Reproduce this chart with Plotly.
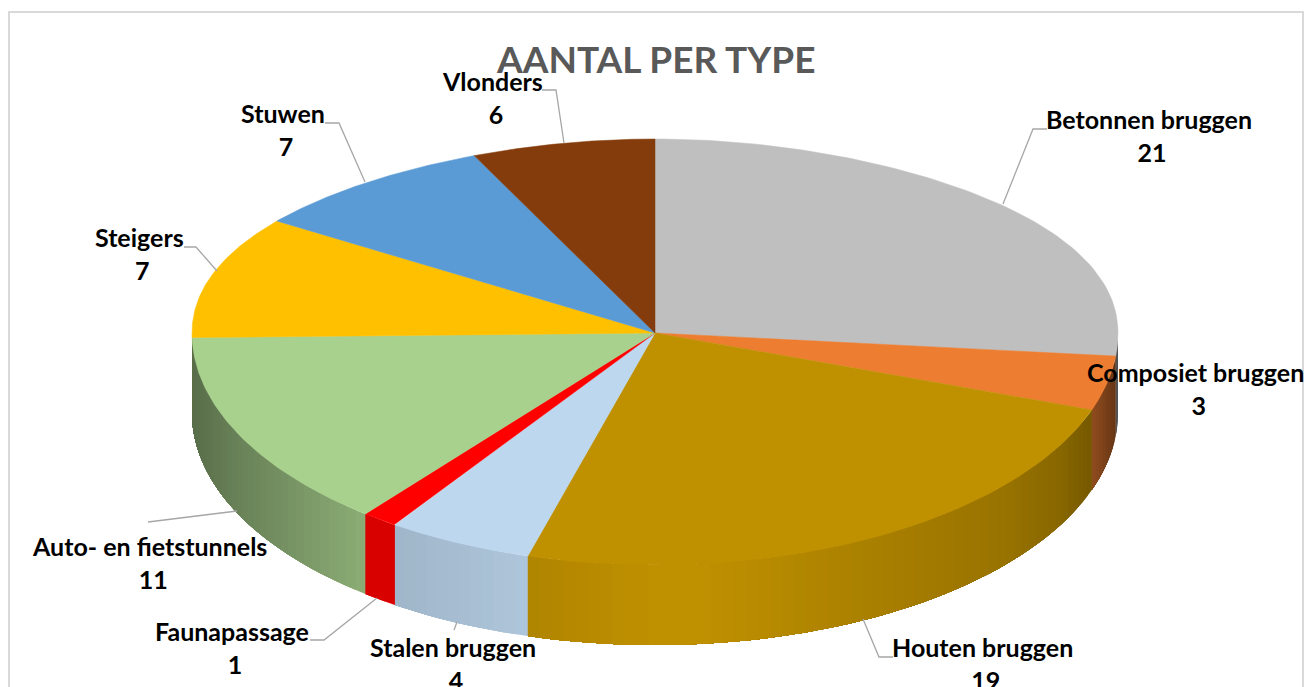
import numpy as np
import plotly.graph_objects as go

categories = ["Betonnen bruggen", "Composiet bruggen", "Houten bruggen", "Stalen bruggen",
              "Faunapassage", "Auto- en fietstunnels", "Steigers", "Stuwen", "Vlonders"]
values = [21, 3, 19, 4, 1, 11, 7, 7, 6]
colors = ["#BFBFBF", "#ED7D31", "#BF9000", "#BDD7EE", "#FF0000", "#A9D18E", "#FFC000", "#5B9BD5", "#843C0C"]
title_text = "AANTAL PER TYPE"

# layout (pixels)
CX, CY, RX, RY_FRONT, DEPTH = 655, 333, 463, 232, 80
label_pos = [(1149, 135.5), (1195, 388.5), (982, 663.5), (453, 663.5), (232, 647.5),
             (149, 562.5), (139, 253.5), (283, 129.5), (492, 97.5)]
leaders = [
    [(1003, 204), (1033, 129), (1047, 129)],
    [(863, 619), (879, 657), (893, 657)],
    [(457, 622), (454, 630)],
    [(377, 598), (324, 640), (310, 640)],
    [(237, 511), (148, 522)],
    [(217, 271), (196, 247), (184, 247)],
    [(365, 182), (339, 123), (325, 123)],
    [(564, 143), (556, 90), (542, 90)],
]


def project(theta):
    """Clockwise angle from the top (radians) to pixel position on the rim."""
    X, Y = np.sin(theta), -np.cos(theta)
    back = Y < 0
    sx = np.where(back, 1 - 0.19 * Y ** 2, 1.0)
    px = CX + RX * X * sx
    py = np.where(back, CY - (245 * np.abs(Y) - 51 * Y ** 2), CY + RY_FRONT * Y)
    return px, py


def shade(hex_color, f):
    r, g, b = (int(hex_color[i:i + 2], 16) for i in (1, 3, 5))
    return f"rgb({r * f:.0f},{g * f:.0f},{b * f:.0f})"


def wall_factor(px):
    n = (px - CX) / RX
    return float(np.interp(n, [-1, -0.9, -0.62, -0.27, 0, 0.1, 0.49, 0.75, 0.87, 0.94, 1],
                           [0.52, 0.62, 0.83, 0.92, 1.0, 1.0, 0.88, 0.80, 0.72, 0.62, 0.42]))


edges = np.concatenate([[0], np.cumsum(values)]) / sum(values) * 2 * np.pi
fig = go.Figure()

# side wall, in overlapping shaded strips, front half only
for i, c in enumerate(colors):
    a0, a1 = max(edges[i], np.pi / 2), min(edges[i + 1], 3 * np.pi / 2)
    if a1 <= a0:
        continue
    n = max(1, int(np.degrees(a1 - a0) / 1.5))
    grid = np.linspace(a0, a1, n + 1)
    # paint from the far end of the slice back to its start, each strip reaching to the slice end
    for s in range(n):
        t = np.linspace(grid[s], a1, max(2, (n - s) + 1))
        px, py = project(t)
        col = "#D90000" if c == "#FF0000" else shade(c, wall_factor(project(grid[s:s + 2])[0].mean()))
        fig.add_trace(go.Scatter(
            x=np.r_[px, px[::-1], px[0]],
            y=np.r_[py, (py + DEPTH)[::-1], py[0]],
            mode="none", fill="toself", fillcolor=col,
            hoverinfo="skip", showlegend=False))

# top face
for i, c in enumerate(colors):
    t = np.linspace(edges[i], edges[i + 1], 80)
    px, py = project(t)
    fig.add_trace(go.Scatter(
        x=np.r_[CX, px, CX], y=np.r_[CY, py, CY],
        mode="lines", fill="toself", fillcolor=c,
        line=dict(color=c, width=0.5), hoverinfo="skip", showlegend=False))

# leader lines
for pts in leaders:
    fig.add_trace(go.Scatter(x=[p[0] for p in pts], y=[p[1] for p in pts], mode="lines",
                             line=dict(color="#A6A6A6", width=1.3), hoverinfo="skip", showlegend=False))

annotations = [dict(x=655, y=58, text=f"<b>{title_text}</b>", showarrow=False,
                    font=dict(family="Lato", size=37, color="#595959"),
                    xanchor="center", yanchor="middle")]
for cat, val, (lx, ly) in zip(categories, values, label_pos):
    annotations.append(dict(x=lx, y=ly, text=f"<b>{cat}<br>\u00a0{val}</b>", showarrow=False,
                            font=dict(family="Lato", size=25, color="#000000"),
                            xanchor="center", yanchor="middle", align="center"))

fig.update_layout(
    width=1316, height=687, margin=dict(l=0, r=0, t=0, b=0),
    paper_bgcolor="white", plot_bgcolor="white",
    xaxis=dict(range=[0, 1316], visible=False, fixedrange=True),
    yaxis=dict(range=[687, 0], visible=False, fixedrange=True),
    annotations=annotations,
    shapes=[dict(type="rect", xref="x", yref="y", x0=9, y0=12, x1=1303, y1=720,
                 line=dict(color="#D9D9D9", width=2), layer="below")],
)
fig.write_html("out.html", config=dict(displayModeBar=False),
               post_script="document.body.style.margin='0';document.documentElement.style.overflow='hidden';")
